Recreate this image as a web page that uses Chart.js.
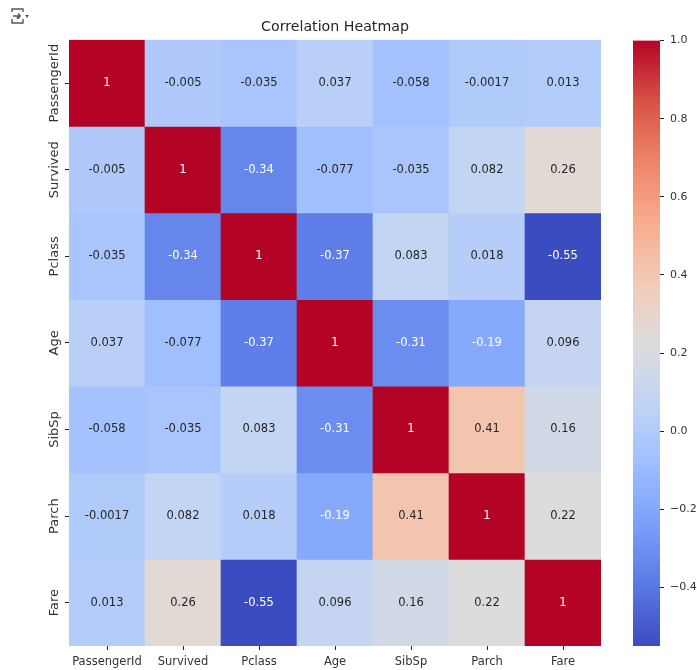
<!DOCTYPE html>
<html>
<head>
<meta charset="utf-8">
<title>Correlation Heatmap</title>
<script src="https://cdn.jsdelivr.net/npm/chart.js@4"></script>
<style>
    html, body { margin: 0; padding: 0; background: #fff; }
    body { position: relative; width: 697px; height: 670px; overflow: hidden; }
    #heatmap { position: absolute; left: 0; top: 0; }
    #colorbar { position: absolute; left: 620px; top: 28px; }
    #icon { position: absolute; left: 10px; top: 7px; }
</style>
</head>
<body>
<svg id="icon" width="19" height="19" viewBox="0 0 19 19" fill="none" stroke="#555" stroke-width="1.4">
    <path d="M2 5V2H13V5M2 12V16H13V12"/>
    <path d="M7.5 4.5V12M4.5 9H7.5M7.5 12L5 9.5M7.5 12L10 9.5" transform="rotate(-90 7.5 9)"/>
    <path d="M15 8H19L17 11Z" fill="#555" stroke="none"/>
</svg>
<canvas id="heatmap" width="697" height="670"></canvas>
<canvas id="colorbar" width="77" height="632"></canvas>
<script>
const columns = ['PassengerId', 'Survived', 'Pclass', 'Age', 'SibSp', 'Parch', 'Fare'];

const passengerIdRow = ['1', '-0.005', '-0.035', '0.037', '-0.058', '-0.0017', '0.013'];
const survivedRow = ['-0.005', '1', '-0.34', '-0.077', '-0.035', '0.082', '0.26'];
const pclassRow = ['-0.035', '-0.34', '1', '-0.37', '0.083', '0.018', '-0.55'];
const ageRow = ['0.037', '-0.077', '-0.37', '1', '-0.31', '-0.19', '0.096'];
const sibSpRow = ['-0.058', '-0.035', '0.083', '-0.31', '1', '0.41', '0.16'];
const parchRow = ['-0.0017', '0.082', '0.018', '-0.19', '0.41', '1', '0.22'];
const fareRow = ['0.013', '0.26', '-0.55', '0.096', '0.16', '0.22', '1'];

const rows = [passengerIdRow, survivedRow, pclassRow, ageRow, sibSpRow, parchRow, fareRow];

const colorbarTicks = [-0.4, -0.2, 0, 0.2, 0.4, 0.6, 0.8, 1];
const scaleMin = -0.55;
const scaleMax = 1;

// coolwarm, sampled every 0.1
const coolwarm = [
    [59, 76, 192], [90, 120, 228], [123, 159, 249], [158, 190, 255], [192, 212, 245], [221, 220, 220],
    [242, 203, 183], [247, 172, 142], [238, 132, 104], [214, 82, 68], [180, 4, 38]
];

const colorAt = (t) => {
    const pos = Math.min(Math.max(t, 0), 1) * (coolwarm.length - 1);
    const i = Math.min(Math.floor(pos), coolwarm.length - 2);
    const f = pos - i;
    const c = coolwarm[i].map((v, k) => Math.round(v + (coolwarm[i + 1][k] - v) * f));
    return `rgb(${c[0]},${c[1]},${c[2]})`;
};

const cellColor = (text) => colorAt((parseFloat(text) - scaleMin) / (scaleMax - scaleMin));

// numbers in the cells, white on the dark ones
const cellLabels = {
    id: 'cellLabels',
    afterDatasetsDraw(chart) {
        const { ctx } = chart;
        ctx.save();
        ctx.font = '11.5px "DejaVu Sans"';
        ctx.textAlign = 'center';
        ctx.textBaseline = 'middle';
        rows.forEach((row, r) => {
            const bars = chart.getDatasetMeta(r).data;
            row.forEach((text, c) => {
                const v = parseFloat(text);
                ctx.fillStyle = (v === 1 || v <= -0.19) ? '#ffffff' : '#262626';
                const p = bars[c].getCenterPoint();
                ctx.fillText(text, p.x, p.y);
            });
        });
        ctx.restore();
    }
};

new Chart(document.getElementById('heatmap'), {
    type: 'bar',
    plugins: [cellLabels],
    data: {
        labels: columns,
        datasets: rows.map((row, r) => ({
            label: columns[r],
            data: row.map(() => [r, r + 1]),
            backgroundColor: row.map(cellColor),
            borderWidth: 0,
            barPercentage: 1,
            categoryPercentage: 1,
            grouped: false
        }))
    },
    options: {
        responsive: false,
        animation: false,
        layout: { padding: { right: 96 } },
        plugins: {
            legend: { display: false },
            tooltip: { enabled: false },
            title: {
                display: true,
                fullSize: false,
                text: 'Correlation Heatmap',
                color: '#262626',
                font: { family: '"DejaVu Sans"', size: 14.2, weight: 'normal' },
                padding: { top: 18.8, bottom: 4 }
            }
        },
        scales: {
            x: {
                grid: { drawOnChartArea: false, drawTicks: true, tickLength: 4, tickColor: '#222', tickWidth: 1, offset: false },
                border: { display: false },
                ticks: {
                    color: '#333',
                    font: { family: '"DejaVu Sans"', size: 11.5 },
                    maxRotation: 0,
                    minRotation: 0,
                    padding: 5,
                    autoSkip: false
                },
                afterFit: (scale) => { scale.height = 24; }
            },
            y: {
                reverse: true,
                min: 0,
                max: rows.length,
                grid: { drawOnChartArea: false, drawTicks: true, tickLength: 4, tickColor: '#222', tickWidth: 1 },
                border: { display: false },
                afterBuildTicks: (scale) => {
                    scale.ticks = rows.map((row, r) => ({ value: r + 0.5 }));
                },
                ticks: {
                    color: '#333',
                    font: { family: '"DejaVu Sans"', size: 13 },
                    minRotation: 90,
                    maxRotation: 90,
                    crossAlign: 'center',
                    padding: -29,
                    autoSkip: false,
                    callback: (value) => columns[Math.floor(value)]
                },
                afterFit: (scale) => { scale.width = 69; }
            }
        }
    }
});

new Chart(document.getElementById('colorbar'), {
    type: 'bar',
    data: {
        labels: [''],
        datasets: [{
            data: [[scaleMin, scaleMax]],
            borderWidth: 0,
            barPercentage: 1,
            categoryPercentage: 1,
            backgroundColor: (context) => {
                const { ctx, chartArea } = context.chart;
                if (!chartArea) return 'rgb(59,76,192)';
                const gradient = ctx.createLinearGradient(0, chartArea.bottom, 0, chartArea.top);
                for (let i = 0; i <= 40; i++) gradient.addColorStop(i / 40, colorAt(i / 40));
                return gradient;
            }
        }]
    },
    options: {
        responsive: false,
        animation: false,
        layout: { padding: { left: 13, top: 8, bottom: 14 } },
        plugins: { legend: { display: false }, tooltip: { enabled: false } },
        scales: {
            x: { display: false },
            y: {
                position: 'right',
                min: scaleMin,
                max: scaleMax,
                grid: { drawOnChartArea: false, drawTicks: true, tickLength: 4, tickColor: '#222', tickWidth: 1 },
                border: { display: false },
                afterBuildTicks: (scale) => {
                    scale.ticks = colorbarTicks.map((value) => ({ value }));
                },
                ticks: {
                    color: '#333',
                    font: { family: '"DejaVu Sans"', size: 11 },
                    padding: 6,
                    autoSkip: false,
                    callback: (value) => value.toFixed(1).replace('-', '\u2212')
                },
                afterFit: (scale) => { scale.width = 37; }
            }
        }
    }
});
</script>
</body>
</html>
